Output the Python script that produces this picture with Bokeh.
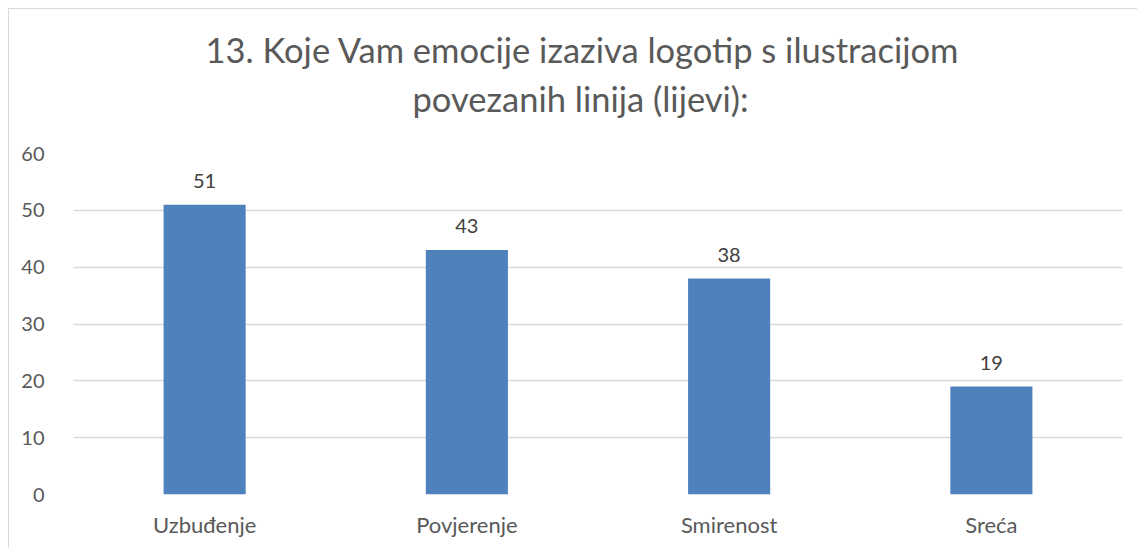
from bokeh.plotting import figure
from bokeh.models import ColumnDataSource, LabelSet, Title
from bokeh.core.properties import value
from bokeh.embed import file_html
from bokeh.resources import INLINE

categories = ["Uzbuđenje", "Povjerenje", "Smirenost", "Sreća"]
values = [51, 43, 38, 19]
y_ticks = [0, 10, 20, 30, 40, 50, 60]
title_lines = ["13. Koje Vam emocije izaziva logotip s ilustracijom", "povezanih linija (lijevi):"]

FONT = "Lato"
source = ColumnDataSource(data=dict(cat=categories, val=values, lbl=[str(v) for v in values]))

p = figure(x_range=categories, y_range=(0, 60), width=1129, height=540,
           output_backend="svg", toolbar_location=None, title=None,
           min_border_left=64, min_border_right=16, min_border_top=144, min_border_bottom=55)
p.styles = {"margin-left": "8px", "margin-top": "8px",
            "border-left": "1px solid #d9d9d9", "border-top": "1px solid #d9d9d9"}
p.outline_line_color = None

title_offsets = [132, 339]
title_standoffs = [-59, 70]
for line, off, so in reversed(list(zip(title_lines, title_offsets, title_standoffs))):
    t = Title(text=line, align="left", offset=off, text_font=FONT, text_font_size="34.5px",
              text_font_style="normal", text_color="#595959", standoff=so)
    p.add_layout(t, "above")

p.vbar(x="cat", top="val", width=0.313, source=source, fill_color="#4f81bd", line_color=None)

labels = LabelSet(x="cat", y="val", text="lbl", source=source, text_align="center",
                  text_baseline="bottom", y_offset=17, text_font=value(FONT),
                  text_font_size="20px", text_color="#404040")
p.add_layout(labels)

p.xgrid.grid_line_color = None
p.ygrid.grid_line_color = "#d9d9d9"
p.ygrid.grid_line_width = 1.3
p.yaxis.ticker = y_ticks
for ax in (p.xaxis, p.yaxis):
    ax.axis_line_color = None
    ax.major_tick_line_color = None
    ax.minor_tick_line_color = None
    ax.major_label_text_font = FONT
    ax.major_label_text_color = "#595959"
p.yaxis.major_label_text_font_size = "20px"
p.xaxis.major_label_text_font_size = "22px"
p.yaxis.major_label_standoff = 23
p.xaxis.major_label_standoff = 10
p.x_range.range_padding = 0

open("out.html", "w").write(file_html(p, INLINE))
